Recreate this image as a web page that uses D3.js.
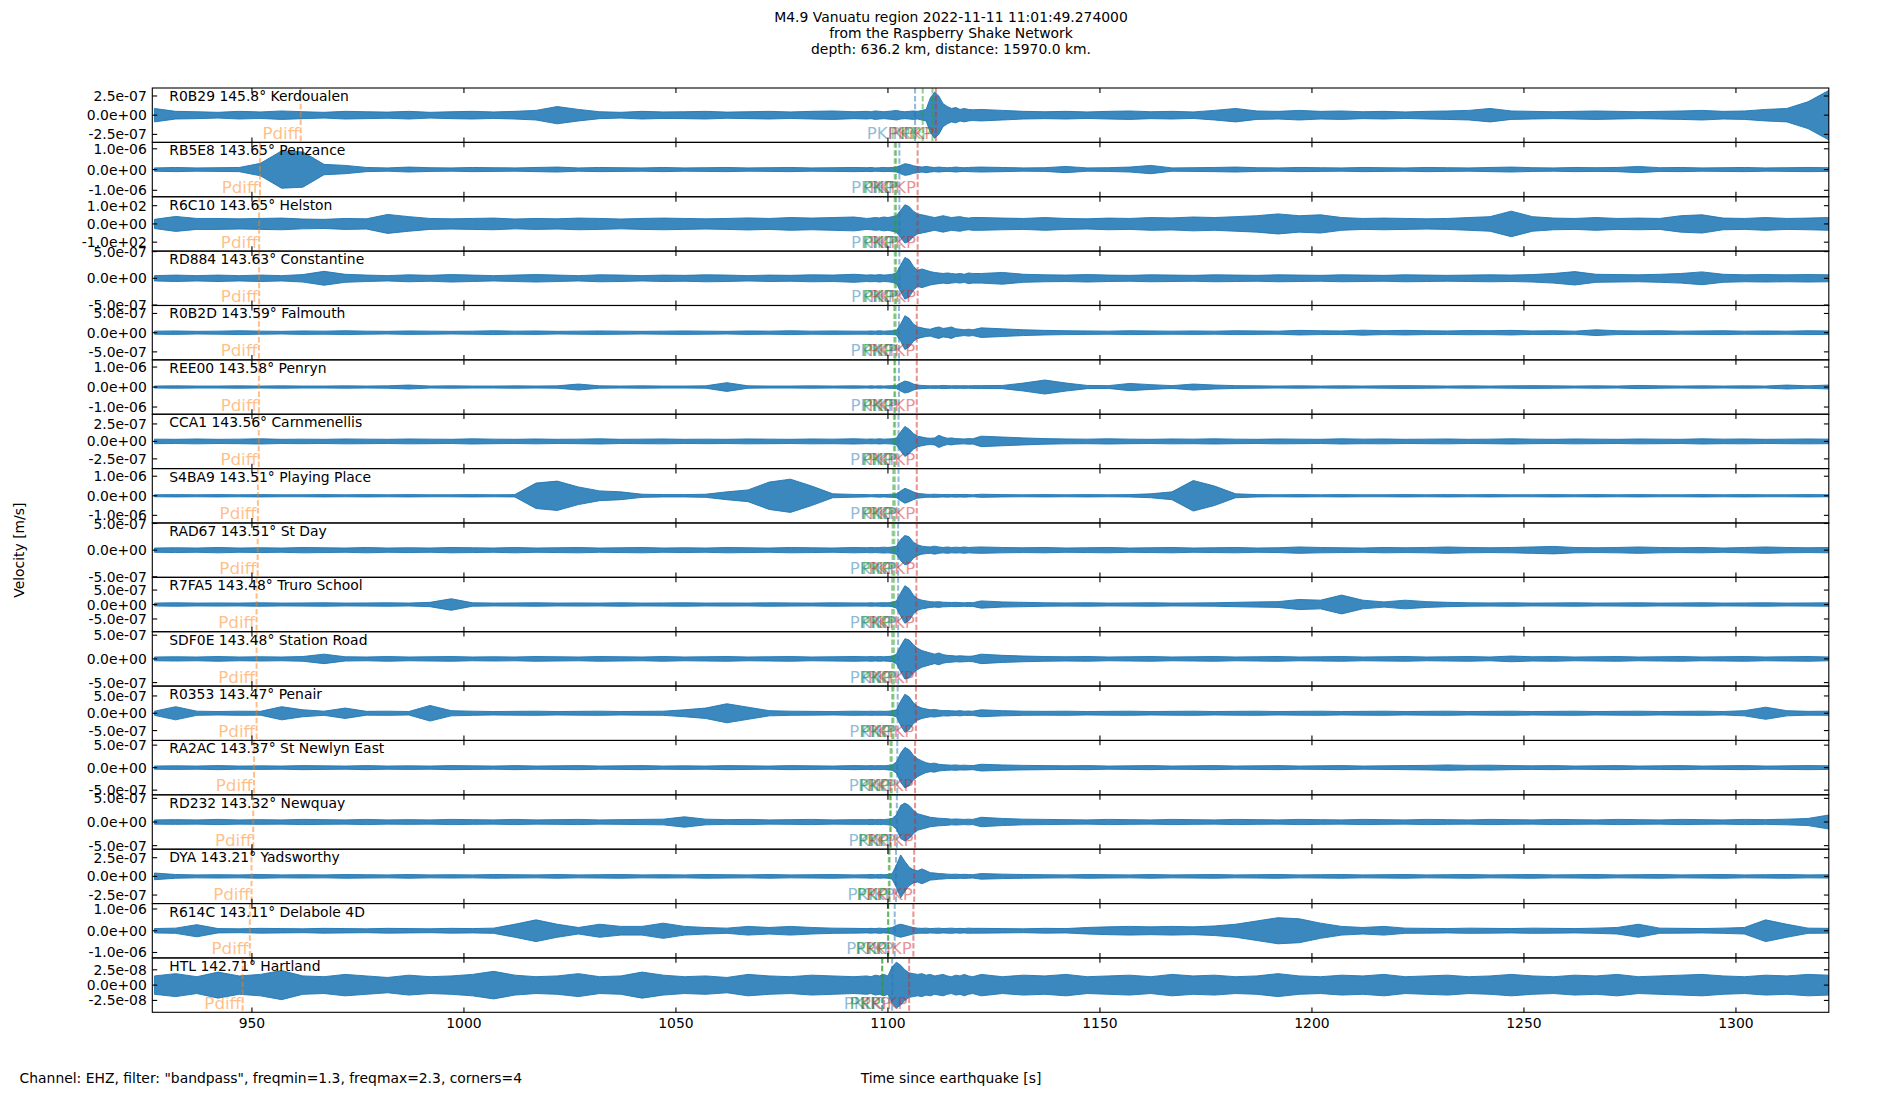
<!DOCTYPE html>
<html>
<head>
<meta charset="utf-8">
<script src="https://cdn.jsdelivr.net/npm/d3@7"></script>
<style>
  body { margin: 0; background: #fff; }
  text { font-family: "DejaVu Sans", sans-serif; }
</style>
</head>
<body>
<svg id="chart" width="1900" height="1100"></svg>
<script>
// ---- data ----
const titleLines = [
  "M4.9 Vanuatu region 2022-11-11 11:01:49.274000",
  "from the Raspberry Shake Network",
  "depth: 636.2 km, distance: 15970.0 km."
];
const stationLabels = [
  "R0B29 145.8° Kerdoualen", "RB5E8 143.65° Penzance", "R6C10 143.65° Helston",
  "RD884 143.63° Constantine", "R0B2D 143.59° Falmouth", "REE00 143.58° Penryn",
  "CCA1 143.56° Carnmenellis", "S4BA9 143.51° Playing Place", "RAD67 143.51° St Day",
  "R7FA5 143.48° Truro School", "SDF0E 143.48° Station Road", "R0353 143.47° Penair",
  "RA2AC 143.37° St Newlyn East", "RD232 143.32° Newquay", "DYA 143.21° Yadsworthy",
  "R614C 143.11° Delabole 4D", "HTL 142.71° Hartland"
];
// y tick step of each panel (ticks at -step, 0, +step)
const yTickSteps = [2.5e-7, 1e-6, 100, 5e-7, 5e-7, 1e-6, 2.5e-7, 1e-6, 5e-7,
  5e-7, 5e-7, 5e-7, 5e-7, 5e-7, 2.5e-7, 1e-6, 2.5e-8];
// half range of each panel's y axis
const yLimits = [3.54e-7, 1.31e-6, 149, 5.09e-7, 7.08e-7, 1.36e-6, 3.89e-7, 1.39e-6, 5.1e-7,
  9.4e-7, 5.74e-7, 7.85e-7, 6.04e-7, 5.75e-7, 3.64e-7, 1.25e-6, 4.44e-8];
const xTicks = [950, 1000, 1050, 1100, 1150, 1200, 1250, 1300];
const timeDomain = [926.5, 1321.9];

// phase arrival times [s] per station
const phaseNames = ["Pdiff", "PKP", "PKP", "PKIKP", "PKiKP"];
const pdiffTimes = [961.5, 951.9, 951.7, 951.7, 951.65, 951.65, 951.6, 951.4, 951.35,
  951.1, 951.1, 951.1, 950.5, 950.3, 949.9, 949.5, 947.8];
const pkpTimesA = [1108.2, 1101.6, 1101.6, 1101.6, 1101.5, 1101.5, 1101.4, 1101.25, 1101.1,
  1101.0, 1101.0, 1101.0, 1100.6, 1100.5, 1100.2, 1100.0, 1098.6];
const pkpTimesB = [1110.5, 1101.9, 1101.9, 1101.9, 1101.8, 1101.7, 1101.7, 1101.6, 1101.5,
  1101.4, 1101.4, 1101.3, 1100.9, 1100.7, 1100.4, 1100.1, 1098.7];
const pkikpTimes = [1106.4, 1102.7, 1102.7, 1102.7, 1102.6, 1102.6, 1102.5, 1102.5, 1102.4,
  1102.4, 1102.4, 1102.3, 1102.2, 1102.1, 1101.9, 1101.6, 1101.0];
const pkikp2Times = [1111.3, 1107.0, 1107.0, 1107.0, 1106.8, 1106.8, 1106.8, 1106.8, 1106.8,
  1106.7, 1106.6, 1106.6, 1106.4, 1106.4, 1106.2, 1106.0, 1105.0];

// sample times [s] of the trace envelopes (5 s windows, 1 s around the P arrivals)
const binTimes = [927, 932, 937, 942, 947, 952, 957, 962, 967, 972,
  977, 982, 987, 992, 997, 1002, 1007, 1012, 1017, 1022,
  1027, 1032, 1037, 1042, 1047, 1052, 1057, 1062, 1067, 1072,
  1077, 1082, 1087, 1092,
  1095, 1096, 1097, 1098, 1099, 1100, 1101, 1102, 1103, 1104, 1105, 1106, 1107,
  1108, 1109, 1110, 1111, 1112, 1113, 1114, 1115, 1116, 1117, 1118, 1119, 1120,
  1122, 1127, 1132, 1137, 1142, 1147, 1152, 1157, 1162, 1167, 1172,
  1177, 1182, 1187, 1192, 1197, 1202, 1207, 1212, 1217, 1222,
  1227, 1232, 1237, 1242, 1247, 1252, 1257, 1262, 1267, 1272,
  1277, 1282, 1287, 1292, 1297, 1302, 1307, 1312, 1317, 1322];

// peak amplitude in each window, in multiples of the panel's y tick step
const ampR0B29 = [0.35,0.2,0.18,0.15,0.2,0.17,0.22,0.18,0.15,0.2,
  0.18,0.16,0.2,0.15,0.18,0.2,0.17,0.2,0.25,0.45,
  0.3,0.18,0.15,0.2,0.17,0.18,0.2,0.16,0.18,0.2,
  0.17,0.2,0.22,0.18,
  0.2,0.18,0.22,0.2,0.18,0.2,0.22,0.25,0.2,0.18,0.2,0.22,0.2,
  0.25,0.3,0.9,1.2,1.0,0.6,0.45,0.35,0.4,0.3,0.35,0.3,0.28,
  0.3,0.25,0.2,0.18,0.2,0.17,0.2,0.22,0.18,0.2,0.17,
  0.25,0.35,0.22,0.2,0.25,0.2,0.22,0.18,0.2,0.17,
  0.2,0.22,0.25,0.35,0.22,0.2,0.18,0.2,0.22,0.2,
  0.18,0.2,0.22,0.25,0.2,0.22,0.3,0.35,0.7,1.3];
const ampRB5E8 = [0.08,0.1,0.08,0.09,0.1,0.3,0.9,0.85,0.25,0.2,
  0.1,0.08,0.12,0.09,0.08,0.1,0.09,0.08,0.1,0.12,
  0.08,0.1,0.09,0.08,0.1,0.08,0.09,0.1,0.08,0.09,
  0.1,0.08,0.09,0.1,
  0.09,0.1,0.08,0.09,0.1,0.09,0.1,0.12,0.2,0.28,0.25,0.18,0.15,
  0.12,0.15,0.12,0.1,0.12,0.1,0.09,0.1,0.12,0.1,0.09,0.1,0.11,
  0.12,0.1,0.08,0.09,0.15,0.08,0.09,0.12,0.2,0.08,0.09,
  0.1,0.12,0.09,0.08,0.1,0.09,0.08,0.1,0.09,0.08,
  0.1,0.09,0.08,0.1,0.12,0.09,0.08,0.1,0.09,0.1,
  0.15,0.09,0.1,0.08,0.09,0.1,0.08,0.09,0.1,0.09];
const ampR6C10 = [0.25,0.41,0.3,0.3,0.28,0.3,0.32,0.27,0.25,0.3,
  0.28,0.52,0.4,0.3,0.28,0.3,0.32,0.27,0.3,0.28,
  0.32,0.3,0.27,0.3,0.32,0.3,0.28,0.3,0.33,0.3,
  0.35,0.32,0.35,0.38,
  0.3,0.32,0.35,0.33,0.38,0.35,0.4,0.45,0.75,1.05,0.95,0.7,0.55,
  0.5,0.45,0.4,0.35,0.4,0.45,0.4,0.35,0.38,0.4,0.35,0.32,0.35,
  0.35,0.32,0.3,0.35,0.3,0.28,0.32,0.3,0.35,0.33,0.38,
  0.35,0.4,0.45,0.55,0.45,0.5,0.35,0.3,0.32,0.3,
  0.28,0.3,0.35,0.4,0.7,0.4,0.32,0.3,0.35,0.3,
  0.32,0.3,0.45,0.5,0.32,0.3,0.35,0.3,0.32,0.35];
const ampRD884 = [0.1,0.12,0.1,0.12,0.1,0.12,0.1,0.14,0.26,0.15,
  0.12,0.1,0.13,0.11,0.14,0.12,0.1,0.12,0.14,0.12,
  0.1,0.13,0.12,0.1,0.12,0.11,0.13,0.12,0.1,0.12,
  0.11,0.13,0.12,0.15,
  0.12,0.13,0.12,0.14,0.12,0.13,0.15,0.2,0.5,0.78,0.7,0.45,0.3,
  0.35,0.3,0.25,0.22,0.2,0.18,0.2,0.18,0.16,0.18,0.15,0.2,0.18,
  0.18,0.22,0.15,0.13,0.12,0.14,0.12,0.11,0.13,0.12,0.11,
  0.13,0.12,0.11,0.13,0.12,0.11,0.13,0.12,0.11,0.13,
  0.12,0.11,0.12,0.13,0.12,0.14,0.18,0.25,0.15,0.14,
  0.13,0.15,0.18,0.24,0.15,0.13,0.14,0.13,0.14,0.13];
const ampR0B2D = [0.08,0.09,0.07,0.08,0.1,0.08,0.07,0.09,0.08,0.1,
  0.08,0.07,0.09,0.08,0.07,0.08,0.1,0.08,0.09,0.07,
  0.08,0.09,0.08,0.07,0.08,0.09,0.08,0.07,0.09,0.08,
  0.1,0.08,0.09,0.08,
  0.08,0.09,0.08,0.1,0.08,0.09,0.1,0.12,0.45,0.88,0.75,0.45,0.3,
  0.25,0.2,0.18,0.25,0.3,0.22,0.25,0.3,0.2,0.18,0.15,0.18,0.15,
  0.25,0.2,0.15,0.12,0.1,0.09,0.08,0.1,0.09,0.08,0.09,
  0.08,0.1,0.09,0.08,0.12,0.1,0.09,0.13,0.1,0.12,
  0.1,0.09,0.11,0.1,0.12,0.09,0.1,0.08,0.15,0.1,
  0.09,0.1,0.08,0.09,0.1,0.08,0.09,0.08,0.1,0.09];
const ampREE00 = [0.05,0.06,0.05,0.05,0.06,0.05,0.06,0.05,0.05,0.06,
  0.05,0.06,0.1,0.05,0.06,0.05,0.05,0.06,0.05,0.06,
  0.15,0.06,0.05,0.06,0.05,0.05,0.06,0.22,0.06,0.05,
  0.05,0.06,0.05,0.06,
  0.05,0.06,0.05,0.06,0.05,0.06,0.07,0.08,0.2,0.3,0.25,0.15,0.1,
  0.08,0.07,0.06,0.07,0.06,0.08,0.07,0.06,0.07,0.06,0.07,0.06,0.07,
  0.07,0.08,0.2,0.35,0.2,0.08,0.07,0.18,0.12,0.07,0.15,
  0.1,0.07,0.06,0.05,0.06,0.05,0.06,0.05,0.06,0.07,
  0.06,0.05,0.06,0.05,0.06,0.07,0.06,0.05,0.06,0.05,
  0.08,0.06,0.05,0.06,0.05,0.06,0.05,0.1,0.06,0.1];
const ampCCA1 = [0.13,0.12,0.14,0.12,0.13,0.15,0.12,0.13,0.12,0.14,
  0.13,0.12,0.14,0.13,0.12,0.15,0.13,0.12,0.14,0.12,
  0.13,0.15,0.12,0.13,0.14,0.12,0.13,0.12,0.14,0.13,
  0.12,0.14,0.13,0.15,
  0.13,0.14,0.13,0.15,0.13,0.14,0.15,0.2,0.55,0.86,0.7,0.45,0.3,
  0.25,0.2,0.18,0.2,0.35,0.25,0.18,0.2,0.16,0.15,0.14,0.16,0.15,
  0.3,0.25,0.2,0.16,0.14,0.13,0.15,0.13,0.12,0.14,0.13,
  0.15,0.13,0.12,0.14,0.13,0.12,0.15,0.13,0.14,0.12,
  0.13,0.14,0.12,0.13,0.15,0.13,0.12,0.14,0.13,0.12,
  0.14,0.13,0.12,0.15,0.13,0.14,0.12,0.13,0.14,0.13];
const ampS4BA9 = [0.05,0.06,0.05,0.06,0.05,0.06,0.05,0.05,0.06,0.05,
  0.06,0.05,0.06,0.05,0.05,0.06,0.05,0.06,0.65,0.75,
  0.45,0.25,0.2,0.08,0.06,0.06,0.08,0.2,0.3,0.7,
  0.85,0.5,0.1,0.07,
  0.06,0.05,0.06,0.07,0.06,0.07,0.08,0.1,0.25,0.38,0.3,0.2,0.12,
  0.1,0.08,0.07,0.08,0.07,0.06,0.07,0.06,0.07,0.06,0.07,0.06,0.05,
  0.08,0.06,0.05,0.06,0.05,0.06,0.05,0.06,0.1,0.2,0.78,
  0.5,0.1,0.06,0.05,0.06,0.05,0.06,0.05,0.05,0.06,
  0.05,0.06,0.05,0.06,0.05,0.05,0.06,0.05,0.06,0.05,
  0.06,0.05,0.05,0.06,0.05,0.06,0.05,0.05,0.06,0.05];
const ampRAD67 = [0.08,0.09,0.08,0.1,0.08,0.09,0.08,0.1,0.09,0.08,
  0.1,0.08,0.09,0.08,0.1,0.09,0.08,0.1,0.08,0.09,
  0.1,0.08,0.09,0.1,0.08,0.09,0.08,0.1,0.09,0.08,
  0.1,0.09,0.08,0.1,
  0.09,0.1,0.09,0.1,0.11,0.1,0.12,0.15,0.4,0.55,0.5,0.3,0.2,
  0.15,0.13,0.12,0.15,0.12,0.1,0.12,0.1,0.11,0.1,0.12,0.1,0.11,
  0.12,0.1,0.09,0.1,0.08,0.09,0.1,0.08,0.09,0.1,0.08,
  0.09,0.1,0.08,0.09,0.12,0.1,0.09,0.08,0.1,0.09,
  0.1,0.12,0.1,0.09,0.1,0.12,0.14,0.1,0.09,0.1,
  0.12,0.1,0.09,0.1,0.08,0.1,0.12,0.1,0.09,0.1];
const ampR7FA5 = [0.1,0.12,0.1,0.11,0.1,0.12,0.1,0.11,0.12,0.1,
  0.11,0.12,0.1,0.15,0.4,0.12,0.1,0.11,0.12,0.1,
  0.11,0.1,0.12,0.1,0.11,0.12,0.1,0.11,0.1,0.12,
  0.11,0.1,0.12,0.11,
  0.11,0.12,0.11,0.12,0.13,0.12,0.15,0.25,0.8,1.3,1.1,0.65,0.4,
  0.3,0.25,0.2,0.18,0.2,0.16,0.15,0.14,0.15,0.13,0.12,0.14,0.13,
  0.25,0.18,0.15,0.12,0.11,0.12,0.1,0.11,0.12,0.1,0.11,
  0.12,0.15,0.18,0.2,0.35,0.3,0.65,0.3,0.18,0.3,
  0.2,0.15,0.12,0.11,0.12,0.1,0.11,0.12,0.1,0.11,
  0.12,0.1,0.11,0.12,0.1,0.11,0.12,0.1,0.11,0.12];
const ampSDF0E = [0.08,0.09,0.08,0.1,0.08,0.09,0.08,0.1,0.2,0.09,
  0.08,0.1,0.08,0.09,0.1,0.08,0.09,0.08,0.1,0.09,
  0.08,0.1,0.09,0.08,0.1,0.08,0.09,0.1,0.08,0.09,
  0.1,0.08,0.09,0.1,
  0.09,0.1,0.09,0.1,0.09,0.1,0.12,0.2,0.55,0.85,0.8,0.6,0.45,
  0.35,0.3,0.25,0.2,0.25,0.18,0.15,0.14,0.12,0.13,0.12,0.11,0.12,
  0.2,0.15,0.12,0.1,0.09,0.1,0.08,0.09,0.1,0.08,0.09,
  0.1,0.08,0.09,0.1,0.08,0.09,0.1,0.08,0.09,0.1,
  0.08,0.09,0.1,0.08,0.12,0.09,0.1,0.08,0.09,0.1,
  0.08,0.09,0.1,0.08,0.09,0.1,0.08,0.09,0.1,0.08];
const ampR0353 = [0.12,0.38,0.12,0.1,0.12,0.11,0.38,0.2,0.12,0.3,
  0.11,0.12,0.1,0.45,0.15,0.12,0.1,0.11,0.12,0.1,
  0.11,0.12,0.1,0.11,0.12,0.2,0.3,0.55,0.35,0.15,
  0.12,0.11,0.1,0.12,
  0.11,0.12,0.11,0.12,0.11,0.12,0.14,0.2,0.7,1.1,0.95,0.6,0.4,
  0.3,0.25,0.2,0.22,0.18,0.15,0.16,0.14,0.13,0.15,0.12,0.13,0.12,
  0.2,0.15,0.12,0.11,0.12,0.1,0.11,0.12,0.1,0.11,0.12,
  0.1,0.11,0.12,0.1,0.11,0.12,0.1,0.11,0.12,0.1,
  0.11,0.12,0.1,0.11,0.12,0.1,0.11,0.12,0.1,0.11,
  0.12,0.1,0.11,0.12,0.1,0.15,0.35,0.15,0.11,0.12];
const ampRA2AC = [0.07,0.08,0.07,0.09,0.07,0.08,0.07,0.09,0.08,0.07,
  0.09,0.07,0.08,0.07,0.09,0.08,0.07,0.09,0.07,0.08,
  0.09,0.07,0.08,0.09,0.07,0.08,0.07,0.09,0.08,0.07,
  0.09,0.08,0.07,0.09,
  0.08,0.09,0.08,0.09,0.08,0.1,0.12,0.25,0.65,0.9,0.8,0.55,0.4,
  0.3,0.22,0.18,0.2,0.15,0.13,0.12,0.11,0.12,0.1,0.11,0.1,0.09,
  0.15,0.12,0.1,0.09,0.08,0.09,0.07,0.08,0.09,0.07,0.08,
  0.09,0.07,0.08,0.09,0.07,0.08,0.09,0.07,0.08,0.09,
  0.1,0.12,0.1,0.11,0.09,0.08,0.09,0.07,0.08,0.09,
  0.07,0.08,0.09,0.07,0.08,0.09,0.07,0.08,0.09,0.08];
const ampRD232 = [0.09,0.1,0.09,0.11,0.09,0.1,0.09,0.11,0.1,0.09,
  0.11,0.09,0.1,0.09,0.11,0.1,0.09,0.11,0.09,0.1,
  0.11,0.09,0.1,0.11,0.12,0.22,0.12,0.1,0.11,0.09,
  0.1,0.11,0.09,0.1,
  0.1,0.11,0.1,0.11,0.1,0.12,0.15,0.3,0.7,0.8,0.7,0.5,0.35,
  0.3,0.25,0.2,0.18,0.16,0.15,0.14,0.12,0.13,0.12,0.11,0.12,0.11,
  0.2,0.15,0.12,0.11,0.1,0.09,0.11,0.1,0.09,0.11,0.1,
  0.09,0.11,0.1,0.09,0.11,0.1,0.09,0.11,0.1,0.09,
  0.11,0.1,0.09,0.11,0.1,0.09,0.11,0.1,0.09,0.11,
  0.1,0.09,0.11,0.1,0.09,0.11,0.1,0.12,0.15,0.3];
const ampDYA = [0.18,0.1,0.08,0.09,0.08,0.1,0.08,0.09,0.08,0.1,
  0.09,0.08,0.1,0.08,0.09,0.08,0.1,0.09,0.08,0.1,
  0.08,0.09,0.1,0.08,0.09,0.08,0.1,0.09,0.08,0.1,
  0.08,0.09,0.1,0.08,
  0.09,0.1,0.09,0.1,0.09,0.1,0.15,0.6,1.15,0.8,0.5,0.35,0.3,
  0.4,0.3,0.2,0.18,0.15,0.14,0.12,0.11,0.12,0.1,0.11,0.1,0.09,
  0.15,0.12,0.1,0.09,0.08,0.1,0.09,0.08,0.1,0.08,0.09,
  0.1,0.08,0.09,0.1,0.08,0.09,0.1,0.08,0.09,0.1,
  0.08,0.09,0.1,0.08,0.09,0.1,0.08,0.09,0.1,0.08,
  0.09,0.1,0.08,0.09,0.1,0.08,0.09,0.1,0.08,0.09];
const ampR614C = [0.1,0.12,0.28,0.1,0.09,0.11,0.1,0.09,0.11,0.1,
  0.09,0.11,0.1,0.09,0.11,0.1,0.12,0.3,0.5,0.3,
  0.15,0.3,0.2,0.2,0.35,0.2,0.15,0.12,0.2,0.15,
  0.2,0.15,0.12,0.11,
  0.1,0.11,0.1,0.12,0.1,0.11,0.15,0.25,0.3,0.25,0.2,0.15,0.12,
  0.11,0.12,0.1,0.11,0.12,0.1,0.11,0.12,0.1,0.11,0.1,0.12,0.11,
  0.11,0.1,0.09,0.11,0.1,0.15,0.18,0.2,0.18,0.2,0.18,
  0.22,0.3,0.45,0.6,0.55,0.35,0.2,0.15,0.2,0.12,
  0.11,0.1,0.12,0.11,0.1,0.12,0.11,0.1,0.12,0.15,
  0.3,0.12,0.11,0.1,0.12,0.15,0.5,0.3,0.12,0.11];
const ampHTL = [0.6,0.75,0.55,0.85,0.6,0.7,0.95,0.6,0.55,0.7,
  0.6,0.5,0.65,0.55,0.6,0.7,0.9,0.65,0.55,0.6,
  0.75,0.55,0.6,0.85,0.65,0.55,0.6,0.5,0.7,0.6,
  0.55,0.65,0.6,0.55,
  0.6,0.55,0.65,0.6,0.7,0.6,1.2,1.5,1.3,1.0,0.8,0.75,0.7,
  0.75,0.65,0.7,0.6,0.65,0.7,0.6,0.55,0.65,0.6,0.7,0.6,0.55,
  0.7,0.55,0.65,0.6,0.7,0.55,0.6,0.65,0.55,0.7,0.6,
  0.65,0.55,0.6,0.75,0.6,0.55,0.65,0.6,0.7,0.55,
  0.6,0.65,0.55,0.6,0.7,0.6,0.55,0.65,0.6,0.7,
  0.55,0.6,0.65,0.7,0.6,0.55,0.65,0.6,0.7,0.65];

const amplitudes = [ampR0B29, ampRB5E8, ampR6C10, ampRD884, ampR0B2D, ampREE00, ampCCA1,
  ampS4BA9, ampRAD67, ampR7FA5, ampSDF0E, ampR0353, ampRA2AC, ampRD232, ampDYA, ampR614C, ampHTL];

// ---- layout ----
const WIDTH = 1900, HEIGHT = 1100;
const MARGIN = { left: 152.3, right: 71.2, top: 88, bottom: 87.7 };
const PLOT_W = WIDTH - MARGIN.left - MARGIN.right;
const PLOT_H = HEIGHT - MARGIN.top - MARGIN.bottom;
const N = stationLabels.length;
const PANEL_H = PLOT_H / N;
const TICK = 4.9;
const FONT = 13.9;

const TRACE_COLOR = "#1f77b4";
const PHASE_COLORS = ["#ff7f0e", "#2ca02c", "#2ca02c", "#1f77b4", "#d62728"];

function sciFormat(v) {
  if (v === 0) return "0.0e+00";
  const e = Math.floor(Math.log10(Math.abs(v)) + 1e-9);
  const m = v / Math.pow(10, e);
  return m.toFixed(1) + "e" + (e < 0 ? "-" : "+") + String(Math.abs(e)).padStart(2, "0");
}

const svg = d3.select("#chart");
svg.append("rect").attr("width", WIDTH).attr("height", HEIGHT).attr("fill", "white");

const x = d3.scaleLinear().domain(timeDomain).range([MARGIN.left, MARGIN.left + PLOT_W]);

// title
svg.append("g").selectAll("text")
  .data(titleLines)
  .join("text")
  .attr("x", 951)
  .attr("y", (d, i) => 21.7 + i * 16.3)
  .attr("text-anchor", "middle")
  .style("font-size", FONT + "px")
  .text(d => d);

const defs = svg.append("defs");

stationLabels.forEach((label, i) => {
  const top = MARGIN.top + i * PANEL_H;
  const bottom = top + PANEL_H;
  const step = yTickSteps[i];
  const y = d3.scaleLinear().domain([-yLimits[i], yLimits[i]]).range([bottom, top]);

  const panel = svg.append("g").attr("class", "panel");

  defs.append("clipPath").attr("id", "clip" + i)
    .append("rect")
    .attr("x", MARGIN.left).attr("y", top)
    .attr("width", PLOT_W).attr("height", PANEL_H);

  // trace envelope
  const rows = binTimes.map((t, k) => ({ t: t, a: amplitudes[i][k] * step }));
  const area = d3.area()
    .x(d => x(d.t))
    .y0(d => y(-d.a))
    .y1(d => y(d.a));
  panel.append("path")
    .datum(rows)
    .attr("clip-path", `url(#clip${i})`)
    .attr("d", area)
    .attr("fill", TRACE_COLOR)
    .attr("fill-opacity", 0.88)
    .attr("stroke", TRACE_COLOR)
    .attr("stroke-width", 0.9)
    .attr("stroke-linejoin", "round");

  // phase markers
  const phases = [pdiffTimes[i], pkpTimesA[i], pkpTimesB[i], pkikpTimes[i], pkikp2Times[i]]
    .map((t, k) => ({ t: t, name: phaseNames[k], color: PHASE_COLORS[k] }));
  panel.append("g").selectAll("line")
    .data(phases)
    .join("line")
    .attr("x1", d => x(d.t)).attr("x2", d => x(d.t))
    .attr("y1", top).attr("y2", bottom)
    .attr("stroke", d => d.color)
    .attr("stroke-opacity", 0.5)
    .attr("stroke-width", 2)
    .attr("stroke-dasharray", "5.5,2.4");
  panel.append("g").selectAll("text")
    .data(phases)
    .join("text")
    .attr("x", d => x(d.t) - 1.5)
    .attr("y", bottom - 3.5)
    .attr("text-anchor", "end")
    .style("font-size", "16.7px")
    .attr("fill", d => d.color)
    .attr("fill-opacity", 0.5)
    .text(d => d.name);

  // frame
  panel.append("rect")
    .attr("x", MARGIN.left).attr("y", top)
    .attr("width", PLOT_W).attr("height", PANEL_H)
    .attr("fill", "none")
    .attr("stroke", "black")
    .attr("stroke-width", 1.1);

  // x ticks, inward on top and bottom
  const xt = panel.append("g");
  xt.selectAll("line.b")
    .data(xTicks).join("line").attr("class", "b")
    .attr("x1", d => x(d)).attr("x2", d => x(d))
    .attr("y1", bottom).attr("y2", bottom - TICK)
    .attr("stroke", "black").attr("stroke-width", 1.1);
  xt.selectAll("line.t")
    .data(xTicks).join("line").attr("class", "t")
    .attr("x1", d => x(d)).attr("x2", d => x(d))
    .attr("y1", top).attr("y2", top + TICK)
    .attr("stroke", "black").attr("stroke-width", 1.1);

  // y ticks, inward on left and right
  const yVals = [step, 0, -step];
  const yt = panel.append("g");
  yt.selectAll("line.l")
    .data(yVals).join("line").attr("class", "l")
    .attr("x1", MARGIN.left).attr("x2", MARGIN.left + TICK)
    .attr("y1", d => y(d)).attr("y2", d => y(d))
    .attr("stroke", "black").attr("stroke-width", 1.1);
  yt.selectAll("line.r")
    .data(yVals).join("line").attr("class", "r")
    .attr("x1", MARGIN.left + PLOT_W).attr("x2", MARGIN.left + PLOT_W - TICK)
    .attr("y1", d => y(d)).attr("y2", d => y(d))
    .attr("stroke", "black").attr("stroke-width", 1.1);
  yt.selectAll("text")
    .data(yVals).join("text")
    .attr("x", MARGIN.left - 5.5)
    .attr("y", d => y(d))
    .attr("dy", "0.36em")
    .attr("text-anchor", "end")
    .style("font-size", FONT + "px")
    .text(d => sciFormat(d));

  // station label
  panel.append("text")
    .attr("x", MARGIN.left + 17)
    .attr("y", top + 13)
    .style("font-size", FONT + "px")
    .text(label);
});

// x tick labels under the last panel
svg.append("g").selectAll("text")
  .data(xTicks)
  .join("text")
  .attr("x", d => x(d))
  .attr("y", MARGIN.top + PLOT_H + 16)
  .attr("text-anchor", "middle")
  .style("font-size", FONT + "px")
  .text(d => d);

svg.append("text")
  .attr("x", 951)
  .attr("y", 1083)
  .attr("text-anchor", "middle")
  .style("font-size", FONT + "px")
  .text("Time since earthquake [s]");

svg.append("text")
  .attr("x", 19.6)
  .attr("y", 1083)
  .style("font-size", FONT + "px")
  .text('Channel: EHZ, filter: "bandpass", freqmin=1.3, freqmax=2.3, corners=4');

svg.append("text")
  .attr("transform", `translate(24, ${MARGIN.top + PLOT_H / 2}) rotate(-90)`)
  .attr("text-anchor", "middle")
  .style("font-size", FONT + "px")
  .text("Velocity [m/s]");
</script>
</body>
</html>
